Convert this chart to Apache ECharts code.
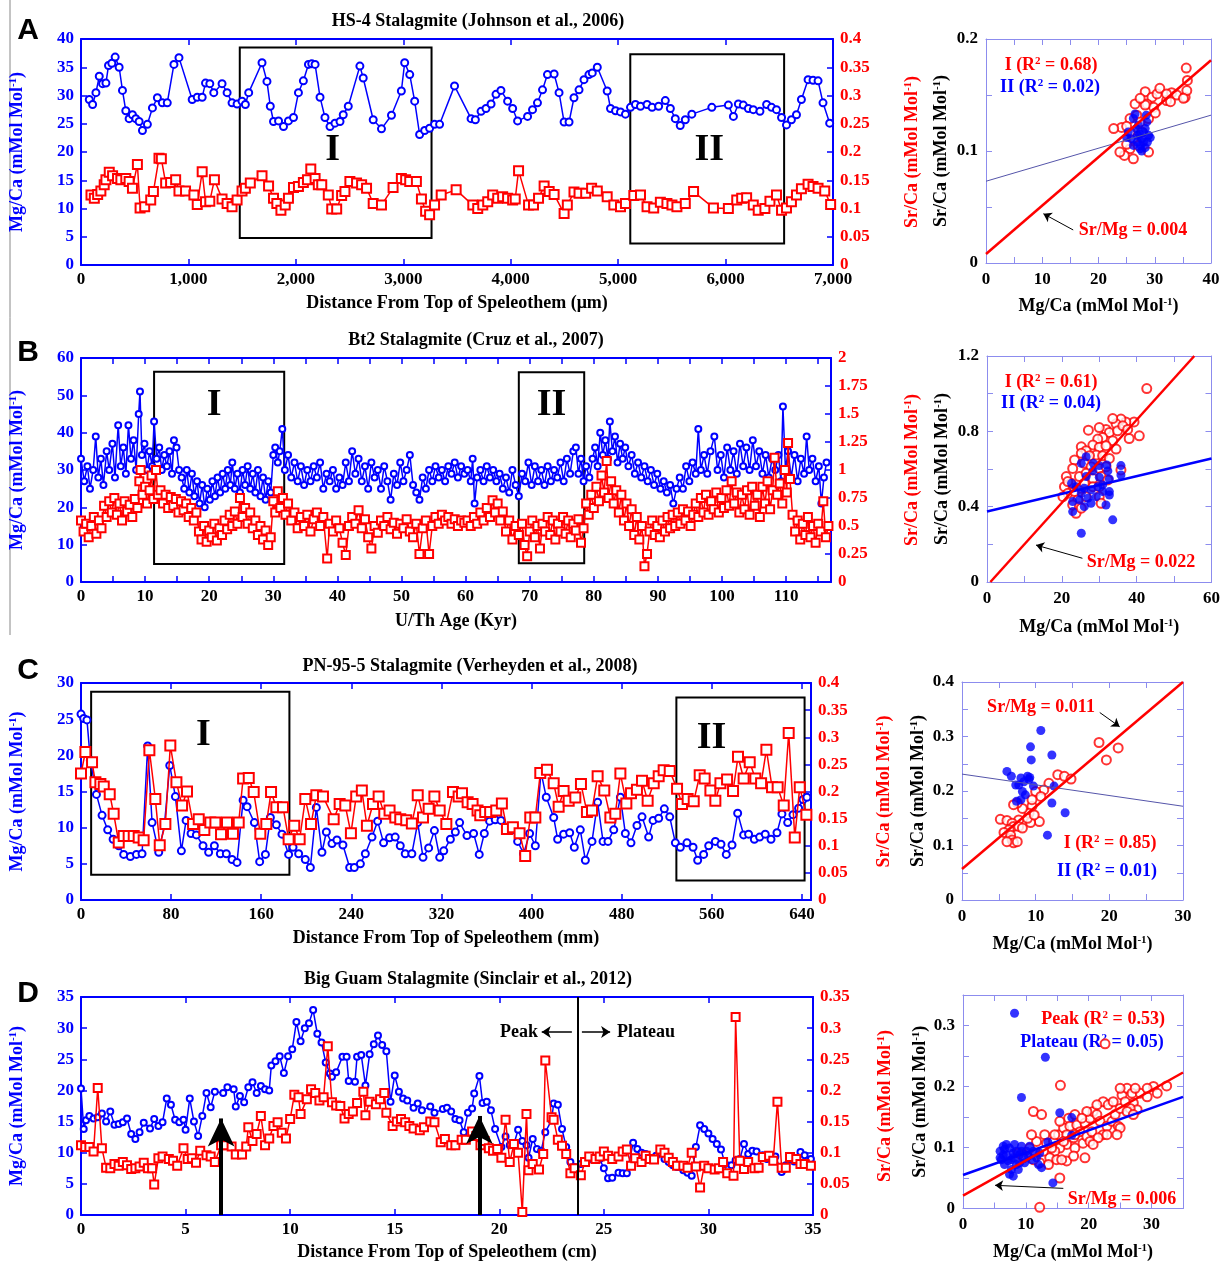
<!DOCTYPE html>
<html>
<head>
<meta charset="utf-8">
<script src="https://cdn.jsdelivr.net/npm/echarts@6/dist/echarts.min.js"></script>
<style>
html, body { margin: 0; padding: 0; background: #fff; }
#main { width: 1223px; height: 1262px; }
</style>
</head>
<body>
<div id="main"></div>
<script>
// ---------- data ----------
// A: HS-4, distance (um) vs Mg/Ca and Sr/Ca
var hs4Mg = [[77,29.3],[108,28.4],[139,30.5],[170,33.4],[201,32.1],[232,32.2],[256,35.3],[287,35.7],[318,36.8],[355,35.0],[386,30.9],[417,27.3],[448,25.9],[479,26.6],[510,25.9],[541,25.4],[572,23.8],[618,24.9],[665,27.8],[711,29.6],[757,28.7],[803,28.7],[865,35.5],[912,36.7],[1035,29.3],[1082,29.7],[1128,29.7],[1159,32.2],[1199,32.1],[1236,30.5],[1313,32.1],[1360,30.5],[1406,28.7],[1453,28.5],[1499,29.0],[1530,28.4],[1561,30.5],[1685,35.8],[1731,32.5],[1762,28.1],[1792,25.4],[1839,25.5],[1885,24.5],[1931,25.5],[1978,26.1],[2024,30.5],[2070,32.6],[2117,35.5],[2148,35.6],[2179,35.5],[2225,29.7],[2271,26.1],[2318,24.5],[2364,25.1],[2411,25.4],[2441,26.6],[2488,28.1],[2596,35.2],[2627,33.1],[2720,25.7],[2797,24.1],[2890,26.5],[2982,30.8],[3013,35.8],[3060,33.7],[3106,29.0],[3152,23.1],[3199,23.8],[3245,24.2],[3291,24.9],[3338,24.9],[3477,31.7],[3631,25.9],[3671,25.7],[3724,27.2],[3770,27.7],[3817,28.5],[3863,30.2],[3909,30.9],[3971,29.0],[4018,27.7],[4064,25.5],[4157,26.3],[4203,27.5],[4249,28.7],[4296,31.0],[4342,33.7],[4404,33.8],[4450,30.5],[4497,25.3],[4543,25.3],[4589,29.6],[4636,31.0],[4682,32.8],[4728,33.7],[4759,34.0],[4806,35.0],[4898,30.8],[4929,27.7],[4976,27.3],[5022,27.1],[5068,26.7],[5115,27.9],[5161,28.4],[5208,28.1],[5269,28.4],[5316,27.9],[5377,28.1],[5439,29.1],[5486,27.7],[5532,25.9],[5578,24.7],[5625,25.7],[5686,26.7],[5872,27.9],[6026,28.3],[6073,26.3],[6119,28.5],[6165,28.3],[6212,27.7],[6258,27.5],[6320,27.2],[6382,28.4],[6428,27.9],[6474,27.5],[6521,26.1],[6567,24.8],[6613,25.7],[6660,26.6],[6706,29.3],[6768,32.8],[6814,32.7],[6861,32.6],[6907,28.7],[6969,25.1]];
var hs4Sr = [[93,0.124],[124,0.118],[155,0.125],[185,0.131],[216,0.142],[232,0.151],[263,0.164],[294,0.158],[340,0.153],[371,0.151],[417,0.153],[448,0.148],[479,0.136],[525,0.178],[550,0.101],[593,0.103],[649,0.115],[674,0.130],[726,0.189],[748,0.188],[788,0.145],[834,0.146],[881,0.151],[912,0.131],[973,0.131],[1051,0.124],[1082,0.107],[1128,0.165],[1159,0.112],[1199,0.113],[1242,0.151],[1313,0.117],[1360,0.109],[1406,0.103],[1453,0.115],[1499,0.131],[1530,0.136],[1576,0.145],[1685,0.158],[1746,0.140],[1792,0.118],[1823,0.109],[1861,0.097],[1901,0.106],[1931,0.118],[1978,0.137],[2024,0.139],[2070,0.146],[2108,0.151],[2139,0.170],[2179,0.153],[2209,0.142],[2241,0.142],[2302,0.124],[2334,0.099],[2380,0.099],[2426,0.123],[2457,0.130],[2503,0.148],[2565,0.145],[2612,0.142],[2658,0.136],[2720,0.109],[2797,0.106],[2905,0.137],[2982,0.153],[3022,0.151],[3060,0.148],[3122,0.148],[3169,0.117],[3208,0.095],[3245,0.089],[3291,0.106],[3353,0.124],[3492,0.133],[3647,0.106],[3693,0.100],[3740,0.106],[3786,0.112],[3832,0.124],[3879,0.118],[3925,0.121],[3971,0.118],[4018,0.115],[4042,0.117],[4073,0.167],[4166,0.106],[4212,0.106],[4259,0.118],[4311,0.140],[4358,0.130],[4404,0.125],[4497,0.091],[4527,0.106],[4589,0.129],[4636,0.127],[4698,0.127],[4753,0.136],[4806,0.131],[4898,0.121],[4960,0.106],[5022,0.103],[5068,0.109],[5146,0.123],[5208,0.124],[5269,0.103],[5331,0.101],[5393,0.111],[5454,0.109],[5501,0.106],[5547,0.103],[5625,0.109],[5702,0.130],[5887,0.101],[6026,0.100],[6104,0.115],[6150,0.118],[6196,0.119],[6258,0.106],[6304,0.097],[6366,0.100],[6413,0.113],[6474,0.124],[6521,0.097],[6567,0.101],[6613,0.112],[6660,0.124],[6706,0.135],[6768,0.143],[6814,0.139],[6861,0.136],[6923,0.131],[6978,0.107]];
var hs4Boxes = [['I', 1478, 38.5, 3263, 4.8], ['II', 5113, 37.3, 6545, 3.8]];
var hs4ScatI = [[24.1,0.121],[25.6,0.102],[24.6,0.096],[26.2,0.111],[25.6,0.129],[26.5,0.142],[28.3,0.153],[29.5,0.148],[30.4,0.151],[30.9,0.156],[32.1,0.145],[33.0,0.152],[33.9,0.150],[35.4,0.148],[35.6,0.174],[35.8,0.163],[35.7,0.154],[35.1,0.147],[28.6,0.142],[29.8,0.139],[26.8,0.132],[25.6,0.117],[25.0,0.106],[27.1,0.105],[26.2,0.093],[27.4,0.126],[28.9,0.129],[27.7,0.117],[30.1,0.134],[32.1,0.151],[32.8,0.144],[22.7,0.120],[23.8,0.099],[25.0,0.122],[28.3,0.141],[27.4,0.147],[28.9,0.099]];
var hs4ScatII = [[25.0,0.112],[25.3,0.117],[26.2,0.129],[26.5,0.133],[27.1,0.123],[26.2,0.105],[26.9,0.108],[27.4,0.102],[27.7,0.111],[28.0,0.117],[28.3,0.120],[28.5,0.132],[28.6,0.126],[28.9,0.114],[29.2,0.112],[28.3,0.103],[27.7,0.100],[27.3,0.115],[25.8,0.111],[26.7,0.120],[28.7,0.108],[28.0,0.108],[27.5,0.105],[26.9,0.114]];
var hs4FitI = [[0,0.008],[40,0.181]];
var hs4FitII = [[0,0.073],[40,0.132]];

// B: Bt2, age (kyr)
var bt2Mg = [[0,33],[0.5,27],[1.0,31],[1.4,25],[1.9,30],[2.3,39],[2.7,28],[3.1,33],[3.5,26],[4.0,35],[4.4,30],[4.9,37],[5.3,28],[5.8,42],[6.2,31],[6.6,36],[7.0,29],[7.4,42],[7.8,33],[8.2,38],[8.6,30],[9.0,45],[9.2,51],[9.5,34],[9.9,37],[10.3,30],[10.7,35],[11.1,31],[11.4,43],[11.8,33],[12.2,36],[12.6,30],[13.0,34],[13.4,31],[13.8,35],[14.2,29],[14.5,38],[14.9,36],[15.3,30],[15.7,28],[16.1,25],[16.5,30],[16.9,24],[17.3,29],[17.7,23],[18.1,27],[18.5,21],[18.9,26],[19.3,20],[19.7,25],[20.1,22],[20.5,27],[20.9,23],[21.3,28],[21.7,24],[22.1,29],[22.5,25],[22.9,30],[23.3,26],[23.6,32],[24.0,25],[24.4,29],[24.8,24],[25.2,30],[25.6,26],[26.0,31],[26.4,25],[26.8,29],[27.2,24],[27.6,30],[28.0,23],[28.4,28],[28.8,22],[29.2,27],[29.6,24],[30.0,34],[30.3,36],[30.7,32],[31.0,35],[31.4,41],[31.8,30],[32.3,34],[32.8,28],[33.3,32],[33.8,27],[34.3,31],[34.8,26],[35.3,30],[35.8,27],[36.3,31],[36.8,28],[37.3,32],[37.8,25],[38.3,29],[38.8,27],[39.3,30],[39.8,25],[40.3,28],[40.8,26],[41.3,32],[41.8,27],[42.3,35],[42.8,29],[43.3,33],[43.8,27],[44.3,31],[44.8,25],[45.3,32],[45.8,28],[46.3,30],[46.8,25],[47.3,31],[47.8,27],[48.3,22],[48.8,29],[49.3,26],[49.8,32],[50.3,27],[50.8,30],[51.3,34],[51.8,26],[52.3,24],[52.8,22],[53.3,28],[53.8,25],[54.3,30],[54.8,27],[55.3,31],[55.8,28],[56.3,30],[56.8,27],[57.3,31],[57.8,29],[58.3,32],[58.8,28],[59.3,31],[59.8,29],[60.3,30],[60.8,27],[61.1,33],[61.4,21],[61.8,28],[62.3,30],[62.8,27],[63.3,31],[63.8,28],[64.3,30],[64.8,27],[65.3,29],[65.8,25],[66.3,28],[66.8,24],[67.3,30],[67.8,26],[68.3,23],[68.8,29],[69.3,27],[69.8,32],[70.3,26],[70.8,31],[71.3,27],[71.8,30],[72.3,26],[72.8,31],[73.3,27],[73.8,30],[74.3,28],[74.8,32],[75.3,27],[75.8,33],[76.3,29],[76.8,35],[77.2,36],[77.6,29],[78.0,33],[78.4,27],[78.8,31],[79.3,28],[79.8,33],[80.2,36],[80.6,31],[81.0,40],[81.4,34],[81.8,38],[82.2,33],[82.5,43],[82.9,35],[83.3,39],[83.7,32],[84.1,37],[84.5,33],[84.9,36],[85.4,31],[85.9,34],[86.4,29],[86.9,32],[87.4,28],[87.9,31],[88.4,27],[88.9,30],[89.4,26],[89.9,29],[90.4,25],[90.9,27],[91.4,24],[91.9,26],[92.4,21],[92.9,25],[93.4,28],[93.9,25],[94.4,31],[94.9,27],[95.4,32],[95.9,29],[96.3,41],[96.7,30],[97.2,34],[97.7,29],[98.2,35],[98.8,39],[99.3,30],[99.8,34],[100.3,28],[100.8,36],[101.3,30],[101.8,35],[102.3,29],[102.8,37],[103.3,31],[103.8,36],[104.3,30],[104.8,38],[105.3,31],[105.8,35],[106.3,29],[106.8,34],[107.3,28],[107.8,33],[108.3,30],[108.8,34],[109.2,27],[109.5,47],[109.9,30],[110.3,35],[110.8,28],[111.3,34],[111.8,27],[112.3,33],[112.8,29],[113.2,39],[113.6,30],[114.1,33],[114.6,27],[115.1,31],[115.5,21],[115.9,28],[116.3,32]];
var bt2Sr = [[0,0.55],[0.4,0.45],[0.8,0.52],[1.2,0.40],[1.6,0.50],[2.0,0.58],[2.4,0.43],[2.8,0.55],[3.2,0.48],[3.6,0.68],[4.0,0.58],[4.4,0.72],[4.8,0.62],[5.2,0.75],[5.6,0.60],[6.0,0.70],[6.4,0.55],[6.8,0.72],[7.2,0.63],[7.6,0.69],[8.0,0.58],[8.4,0.74],[8.8,0.66],[9.1,0.90],[9.3,1.0],[9.6,0.78],[10.0,0.85],[10.3,0.70],[10.7,0.82],[11.0,0.95],[11.3,0.74],[11.7,1.0],[12.0,0.78],[12.4,0.82],[12.8,0.70],[13.2,0.78],[13.6,0.66],[14.0,0.76],[14.4,0.68],[14.8,0.74],[15.2,0.62],[15.6,0.72],[16.0,0.64],[16.4,0.70],[16.8,0.58],[17.2,0.66],[17.6,0.55],[18.0,0.62],[18.4,0.45],[18.8,0.38],[19.2,0.50],[19.6,0.36],[20.0,0.46],[20.4,0.40],[20.8,0.52],[21.2,0.37],[21.6,0.48],[22.0,0.42],[22.4,0.55],[22.8,0.47],[23.2,0.60],[23.6,0.50],[24.0,0.63],[24.4,0.52],[24.8,0.75],[25.2,0.58],[25.6,0.66],[26.0,0.52],[26.4,0.62],[26.8,0.48],[27.2,0.55],[27.6,0.42],[28.0,0.50],[28.4,0.38],[28.8,0.46],[29.2,0.33],[29.6,0.40],[30.0,0.72],[30.3,0.62],[30.7,0.81],[31.1,0.66],[31.5,0.75],[31.9,0.60],[32.3,0.70],[32.8,0.55],[33.3,0.62],[33.8,0.48],[34.3,0.58],[34.8,0.50],[35.3,0.60],[35.8,0.45],[36.3,0.56],[36.8,0.62],[37.3,0.50],[37.8,0.58],[38.4,0.21],[38.8,0.52],[39.3,0.45],[39.8,0.55],[40.3,0.48],[40.8,0.35],[41.3,0.24],[41.8,0.50],[42.3,0.58],[42.8,0.52],[43.3,0.64],[43.8,0.48],[44.3,0.56],[44.8,0.40],[45.3,0.30],[45.8,0.50],[46.3,0.44],[46.8,0.55],[47.3,0.50],[47.8,0.58],[48.3,0.47],[48.8,0.53],[49.3,0.43],[49.8,0.52],[50.3,0.48],[50.8,0.56],[51.3,0.45],[51.8,0.40],[52.3,0.52],[52.8,0.25],[53.3,0.48],[53.8,0.55],[54.3,0.25],[54.8,0.50],[55.3,0.58],[55.8,0.52],[56.3,0.60],[56.8,0.55],[57.3,0.58],[57.8,0.52],[58.3,0.56],[58.8,0.50],[59.3,0.55],[59.8,0.53],[60.3,0.55],[60.8,0.50],[61.3,0.58],[61.8,0.52],[62.3,0.62],[62.8,0.55],[63.3,0.66],[63.8,0.58],[64.2,0.73],[64.6,0.62],[65.0,0.70],[65.4,0.55],[65.8,0.63],[66.3,0.45],[66.8,0.55],[67.3,0.38],[67.8,0.50],[68.3,0.42],[68.8,0.52],[69.2,0.33],[69.6,0.23],[70.0,0.45],[70.4,0.55],[70.8,0.40],[71.2,0.50],[71.6,0.30],[72.0,0.52],[72.4,0.45],[72.8,0.58],[73.2,0.42],[73.6,0.55],[74.0,0.38],[74.4,0.52],[74.8,0.45],[75.2,0.58],[75.6,0.43],[76.0,0.55],[76.4,0.40],[76.8,0.52],[77.2,0.46],[77.6,0.56],[78.0,0.35],[78.4,0.48],[78.8,0.70],[79.2,0.60],[79.6,0.78],[80.0,0.66],[80.4,0.85],[80.8,0.72],[81.2,0.95],[81.6,0.80],[82.0,1.08],[82.3,0.75],[82.7,0.90],[83.1,0.70],[83.5,0.82],[83.9,0.62],[84.3,0.78],[84.7,0.55],[85.1,0.70],[85.5,0.50],[85.9,0.65],[86.3,0.42],[86.7,0.58],[87.1,0.38],[87.5,0.50],[87.9,0.14],[88.3,0.25],[88.7,0.45],[89.1,0.55],[89.5,0.42],[89.9,0.50],[90.3,0.40],[90.7,0.55],[91.1,0.45],[91.5,0.58],[91.9,0.48],[92.3,0.60],[92.7,0.50],[93.1,0.62],[93.5,0.52],[93.9,0.65],[94.3,0.55],[94.7,0.63],[95.1,0.50],[95.5,0.60],[95.9,0.70],[96.3,0.58],[96.7,0.75],[97.1,0.62],[97.5,0.78],[97.9,0.60],[98.3,0.72],[98.7,0.65],[99.1,0.80],[99.5,0.62],[99.9,0.75],[100.3,0.66],[100.7,0.82],[101.1,0.68],[101.5,0.90],[101.9,0.70],[102.3,0.80],[102.7,0.62],[103.1,0.78],[103.5,0.65],[103.9,0.82],[104.3,0.60],[104.7,0.85],[105.1,0.68],[105.5,0.78],[105.9,0.58],[106.3,0.85],[106.7,0.70],[107.1,0.90],[107.5,0.65],[107.9,0.82],[108.2,1.11],[108.6,0.78],[109.0,0.88],[109.4,0.70],[109.8,1.0],[110.1,0.80],[110.3,1.24],[110.6,0.92],[111.0,0.60],[111.4,0.45],[111.8,0.55],[112.2,0.38],[112.6,0.52],[113.0,0.42],[113.4,0.58],[113.8,0.40],[114.2,0.50],[114.6,0.35],[115.0,0.52],[115.4,0.45],[115.8,0.72],[116.2,0.40],[116.6,0.50]];
var bt2Boxes = [['I', 11.4, 56.3, 31.7, 4.8], ['II', 68.3, 56.2, 78.5, 5.0]];
var bt2ScatI = [[42.7,1.027],[40.7,0.776],[38.0,0.762],[39.3,0.85],[37.1,0.85],[35.8,0.865],[34.5,0.84],[33.6,0.868],[31.8,0.81],[30.0,0.82],[27.1,0.806],[32.7,0.794],[34.9,0.803],[36.3,0.829],[37.6,0.81],[30.9,0.767],[33.6,0.75],[29.6,0.759],[28.3,0.727],[30.0,0.715],[31.8,0.724],[34.5,0.706],[25.2,0.718],[26.5,0.697],[29.2,0.674],[30.9,0.671],[32.7,0.656],[35.8,0.595],[25.2,0.683],[23.4,0.648],[26.0,0.63],[27.8,0.612],[30.0,0.603],[31.8,0.612],[22.9,0.603],[21.2,0.56],[22.5,0.524],[24.7,0.56],[26.5,0.577],[28.3,0.55],[30.5,0.56],[32.3,0.542],[20.7,0.506],[21.6,0.471],[23.4,0.48],[25.2,0.498],[26.5,0.453],[28.3,0.506],[30.0,0.506],[24.3,0.436],[22.9,0.409],[24.7,0.40],[23.8,0.365],[25.2,0.392],[30.0,0.453],[30.5,0.418],[20.3,0.453],[26.0,0.524],[27.4,0.671],[21.6,0.533]];
var bt2ScatII = [[26.5,0.665],[25.2,0.63],[28.4,0.63],[30.0,0.618],[32.0,0.621],[35.8,0.618],[35.8,0.568],[28.3,0.59],[26.5,0.56],[30.0,0.556],[32.3,0.59],[32.7,0.547],[22.6,0.524],[23.8,0.506],[26.0,0.498],[27.8,0.49],[29.6,0.506],[30.9,0.48],[32.7,0.48],[25.2,0.471],[27.0,0.445],[29.2,0.453],[32.7,0.462],[24.7,0.436],[27.8,0.418],[31.8,0.409],[22.9,0.374],[33.6,0.33],[25.2,0.259],[22.9,0.427],[26.0,0.40],[30.9,0.515]];
var bt2FitI = [[0.9,0],[55.4,1.2]];
var bt2FitII = [[0,0.374],[60,0.656]];

// C: PN-95-5, distance (mm)
var pn95Mg = [[0,25.7],[2.4,25.1],[5.3,24.9],[8.3,19.3],[13.7,14.6],[18.7,11.7],[23.7,9.7],[28.5,8.4],[33.5,7.5],[37.9,6.3],[43.8,6.0],[49.2,6.3],[54.2,6.4],[59.2,21.3],[63.1,10.7],[69.0,6.6],[74.0,10.3],[78.8,18.6],[83.8,14.3],[89.1,6.8],[93.3,11.0],[97.7,9.2],[102.4,9.0],[108.3,7.5],[113.3,6.6],[118.4,7.5],[123.7,6.4],[129.0,6.4],[134.1,5.6],[138.5,5.2],[143.9,13.8],[147.4,12.9],[153.9,10.7],[158.6,5.3],[163.7,6.3],[168.1,11.4],[173.4,10.4],[178.4,9.1],[184.3,6.3],[188.2,7.3],[193.2,6.4],[199.1,5.6],[203.6,4.5],[208.9,12.8],[213.9,6.6],[217.8,9.4],[222.8,7.8],[227.2,8.3],[232.5,7.6],[238.5,4.5],[242.6,4.5],[248.0,5.0],[252.4,6.4],[258.3,8.7],[263.3,10.9],[268.6,7.9],[273.9,8.6],[278.9,8.7],[283.4,7.5],[287.8,6.4],[293.7,6.4],[298.9,10.7],[303.6,5.9],[308.6,7.2],[313.7,9.6],[318.4,5.9],[322.0,6.8],[327.9,8.4],[332.3,9.4],[336.1,10.7],[342.6,8.9],[348.5,9.2],[353.5,6.3],[358.0,9.2],[362.7,10.9],[367.7,11.1],[372.8,11.0],[378.1,9.7],[383.4,9.7],[387.6,8.1],[392.9,6.4],[398.2,9.2],[403.3,7.5],[408.3,17.7],[413.0,14.2],[419.6,11.4],[423.1,8.4],[428.4,9.1],[433.8,9.3],[437.9,7.3],[443.2,9.7],[447.7,5.5],[453.6,8.1],[458.6,13.5],[463.4,8.1],[467.8,8.1],[472.9,9.7],[478.8,14.2],[483.2,9.2],[488.2,7.9],[493.5,10.3],[498.0,11.5],[503.9,8.7],[507.8,11.0],[512.8,11.3],[517.8,12.6],[522.6,11.5],[527.6,7.9],[532.0,7.3],[537.9,7.9],[543.3,7.3],[547.4,5.5],[552.7,6.3],[557.2,7.5],[563.1,8.1],[568.1,7.7],[572.8,6.3],[577.9,7.6],[582.9,12.0],[588.2,9.0],[592.6,9.1],[597.7,8.4],[602.4,8.7],[607.4,9.1],[612.5,8.4],[617.8,9.3],[622.2,11.9],[627.3,10.7],[632.0,11.8],[637.0,12.7],[640.9,13.9],[644.4,14.2]];
var pn95Sr = [[0,0.233],[3.9,0.273],[9.8,0.254],[12.8,0.217],[17.2,0.214],[20.2,0.209],[25.5,0.195],[29.0,0.159],[33.5,0.106],[37.9,0.118],[42.3,0.118],[46.8,0.118],[51.2,0.115],[55.6,0.110],[60.7,0.276],[66.0,0.186],[69.9,0.101],[74.9,0.140],[79.3,0.285],[84.7,0.217],[89.7,0.174],[94.1,0.200],[99.5,0.140],[104.5,0.149],[109.5,0.129],[114.8,0.143],[119.3,0.143],[124.3,0.121],[129.6,0.143],[134.9,0.122],[140.0,0.143],[143.9,0.224],[148.9,0.225],[153.3,0.199],[159.2,0.122],[164.5,0.140],[168.7,0.199],[173.4,0.171],[179.3,0.171],[184.3,0.112],[189.3,0.137],[194.1,0.112],[199.1,0.186],[204.2,0.140],[208.9,0.193],[214.8,0.191],[224.3,0.149],[229.6,0.177],[234.6,0.174],[239.6,0.123],[244.3,0.191],[249.3,0.202],[253.8,0.137],[259.2,0.177],[264.2,0.191],[269.2,0.159],[273.9,0.165],[279.0,0.152],[283.4,0.149],[288.7,0.147],[293.7,0.141],[298.9,0.193],[303.6,0.152],[308.6,0.168],[313.7,0.191],[318.4,0.165],[324.3,0.140],[330.2,0.199],[335.2,0.191],[338.2,0.197],[343.2,0.180],[347.6,0.177],[352.0,0.165],[354.4,0.156],[358.8,0.162],[363.2,0.162],[368.6,0.165],[373.6,0.178],[378.1,0.131],[383.4,0.134],[389.3,0.123],[394.3,0.081],[398.8,0.152],[403.3,0.152],[407.7,0.234],[413.6,0.240],[419.6,0.215],[424.0,0.172],[428.4,0.201],[432.9,0.183],[438.8,0.189],[443.8,0.214],[449.1,0.162],[453.6,0.165],[458.6,0.228],[464.5,0.202],[469.9,0.152],[474.3,0.159],[478.8,0.233],[484.1,0.178],[488.2,0.197],[493.5,0.203],[498.0,0.220],[503.0,0.183],[508.4,0.215],[512.8,0.228],[517.2,0.239],[522.6,0.238],[529.1,0.205],[533.5,0.177],[538.5,0.186],[543.9,0.182],[549.2,0.230],[553.6,0.224],[558.7,0.202],[563.1,0.183],[567.6,0.215],[573.5,0.222],[578.8,0.201],[583.2,0.264],[588.2,0.224],[593.6,0.254],[598.6,0.224],[603.7,0.215],[608.4,0.277],[613.4,0.208],[618.4,0.208],[623.8,0.174],[628.2,0.308],[633.6,0.115],[638.0,0.208],[643.9,0.157]];
var pn95Boxes = [['I', 9, 28.8, 185, 3.5], ['II', 528.5, 28.0, 642.3, 2.7]];
var pn95ScatI = [[18.6,0.289],[21.2,0.279],[19.6,0.257],[13.0,0.23],[13.9,0.227],[14.8,0.222],[11.8,0.214],[11.1,0.202],[10.0,0.199],[10.7,0.19],[9.5,0.172],[9.1,0.159],[8.2,0.168],[7.5,0.178],[7.0,0.175],[10.5,0.144],[9.3,0.142],[7.7,0.147],[5.2,0.148],[6.1,0.146],[6.8,0.141],[7.0,0.135],[7.7,0.135],[6.4,0.129],[5.7,0.124],[6.6,0.119],[6.8,0.11],[7.0,0.105],[7.5,0.107],[6.1,0.107],[8.2,0.132],[8.9,0.15],[9.8,0.156],[9.5,0.184]];
var pn95ScatII = [[10.7,0.311],[9.3,0.281],[9.4,0.257],[12.2,0.266],[6.1,0.236],[6.7,0.227],[8.0,0.224],[8.9,0.227],[9.2,0.225],[9.7,0.209],[7.7,0.211],[8.4,0.217],[7.3,0.211],[8.6,0.193],[8.0,0.184],[7.4,0.181],[12.5,0.209],[12.2,0.178],[14.0,0.16],[11.6,0.119],[8.2,0.199],[9.1,0.221]];
var pn95FitI = [[0,0.057],[30,0.40]];
var pn95FitII = [[0,0.231],[30,0.172]];

// D: Big Guam, distance (cm)
var guamMg = [[0,20.3],[0.13,13.8],[0.24,15.2],[0.4,15.9],[0.6,15.5],[0.8,15.7],[1.0,16.3],[1.2,15.0],[1.4,16.6],[1.6,14.5],[1.8,14.6],[2.0,14.9],[2.2,15.5],[2.4,13.0],[2.6,12.2],[2.8,13.3],[3.0,14.8],[3.3,13.9],[3.5,15.4],[3.7,14.3],[3.9,14.9],[4.1,18.7],[4.3,17.7],[4.5,15.3],[4.7,14.9],[4.9,15.3],[5.0,13.7],[5.2,18.7],[5.4,15.0],[5.6,12.7],[5.8,15.9],[6.0,19.6],[6.2,17.3],[6.4,19.8],[6.8,19.6],[7.0,20.5],[7.3,20.2],[7.4,17.4],[7.6,19.1],[7.8,18.1],[8.0,20.5],[8.2,21.3],[8.4,19.6],[8.6,20.7],[8.8,20.2],[9.0,20.0],[9.1,24.0],[9.3,24.7],[9.5,25.5],[9.7,22.8],[9.9,25.5],[10.1,26.6],[10.3,31.0],[10.5,27.9],[10.7,30.0],[10.9,30.8],[11.1,32.9],[11.3,29.1],[11.5,27.7],[11.7,24.5],[11.9,22.7],[12.0,22.2],[12.2,22.9],[12.5,25.4],[12.7,25.4],[12.8,21.5],[13.1,21.4],[13.2,25.4],[13.4,25.7],[13.6,20.8],[13.8,25.8],[14.0,27.4],[14.2,28.8],[14.4,27.3],[14.6,26.3],[14.8,18.2],[15.0,22.4],[15.2,19.8],[15.4,18.7],[15.6,18.4],[15.9,17.2],[16.1,17.9],[16.3,16.8],[16.7,17.4],[16.9,16.4],[17.3,17.0],[17.5,17.2],[17.7,16.6],[17.9,15.4],[18.1,15.2],[18.3,13.3],[18.5,16.4],[18.7,17.1],[18.8,19.5],[19.05,22.3],[19.2,18.0],[19.4,18.2],[19.6,16.8],[19.8,13.8],[20.1,10.9],[20.3,12.6],[20.5,11.2],[20.7,11.4],[20.9,13.7],[21.1,11.9],[21.3,11.2],[21.4,9.2],[21.6,12.2],[21.8,10.6],[22.0,10.3],[22.2,13.3],[22.5,15.2],[22.6,17.9],[22.8,17.7],[23.0,13.8],[23.2,10.9],[23.4,8.5],[23.6,7.7],[23.9,8.2],[24.1,8.5],[24.4,9.0],[24.6,9.1],[24.8,9.0],[25.0,7.5],[25.2,5.9],[25.4,6.0],[25.7,6.8],[25.9,6.7],[26.1,6.7],[26.4,11.6],[26.6,10.6],[26.8,10.0],[27.0,9.8],[27.2,9.1],[27.5,9.5],[27.7,10.0],[27.9,9.0],[28.1,8.5],[28.3,8.0],[28.5,7.7],[28.8,7.2],[29.0,6.8],[29.2,6.3],[29.4,10.9],[29.6,14.4],[29.8,13.8],[30.0,13.1],[30.2,12.2],[30.4,11.4],[30.6,10.5],[30.8,8.2],[31.1,8.0],[31.3,8.8],[31.5,9.0],[31.7,11.4],[31.9,9.8],[32.1,10.3],[32.3,10.2],[32.6,9.6],[32.8,9.0],[33.0,9.2],[33.2,9.4],[33.5,6.9],[33.7,8.0],[33.9,9.0],[34.1,8.6],[34.4,10.1],[34.6,9.6],[34.9,9.0]];
var guamSr = [[0,0.112],[0.2,0.109],[0.4,0.109],[0.6,0.102],[0.8,0.204],[1.0,0.107],[1.2,0.076],[1.4,0.075],[1.6,0.082],[1.8,0.079],[2.0,0.085],[2.2,0.080],[2.4,0.074],[2.6,0.075],[2.8,0.078],[3.0,0.084],[3.2,0.075],[3.4,0.075],[3.5,0.049],[3.7,0.091],[3.9,0.094],[4.2,0.090],[4.4,0.087],[4.6,0.079],[4.9,0.107],[5.1,0.090],[5.3,0.091],[5.5,0.084],[5.7,0.103],[6.0,0.096],[6.2,0.094],[6.4,0.085],[6.7,0.112],[6.9,0.112],[7.2,0.110],[7.4,0.097],[7.7,0.097],[7.9,0.110],[8.0,0.141],[8.2,0.119],[8.4,0.130],[8.6,0.159],[8.8,0.112],[9.0,0.123],[9.2,0.143],[9.4,0.149],[9.6,0.132],[9.8,0.123],[10.0,0.154],[10.2,0.193],[10.4,0.189],[10.5,0.162],[10.8,0.186],[11.0,0.202],[11.2,0.196],[11.4,0.184],[11.6,0.189],[11.8,0.271],[12.0,0.181],[12.2,0.176],[12.4,0.175],[12.6,0.155],[12.8,0.162],[13.0,0.166],[13.2,0.180],[13.5,0.198],[13.6,0.160],[13.8,0.182],[14.1,0.178],[14.3,0.186],[14.5,0.196],[14.6,0.164],[14.9,0.143],[15.1,0.150],[15.3,0.154],[15.5,0.149],[15.7,0.143],[15.9,0.139],[16.2,0.136],[16.4,0.141],[16.7,0.150],[16.9,0.149],[17.2,0.117],[17.4,0.122],[17.7,0.112],[17.9,0.112],[18.2,0.121],[18.4,0.121],[18.7,0.134],[18.9,0.127],[19.1,0.112],[19.3,0.119],[19.5,0.107],[19.7,0.103],[19.9,0.106],[20.1,0.092],[20.3,0.153],[20.5,0.085],[20.7,0.114],[20.9,0.100],[21.1,0.005],[21.3,0.162],[21.4,0.072],[21.6,0.082],[21.9,0.073],[22.1,0.098],[22.2,0.248],[22.5,0.157],[22.6,0.153],[22.8,0.121],[23.0,0.111],[23.2,0.098],[23.4,0.067],[23.6,0.075],[23.9,0.064],[24.1,0.085],[24.3,0.094],[24.6,0.090],[24.8,0.094],[25.0,0.102],[25.2,0.095],[25.4,0.090],[25.7,0.094],[25.9,0.102],[26.1,0.105],[26.3,0.079],[26.5,0.091],[26.8,0.085],[27.0,0.095],[27.2,0.090],[27.4,0.089],[27.7,0.105],[27.9,0.100],[28.1,0.092],[28.3,0.085],[28.5,0.079],[28.8,0.079],[29.0,0.076],[29.2,0.100],[29.4,0.078],[29.6,0.044],[29.8,0.079],[30.0,0.075],[30.3,0.073],[30.5,0.075],[30.7,0.085],[30.9,0.067],[31.2,0.063],[31.3,0.318],[31.5,0.087],[31.7,0.074],[31.9,0.085],[32.2,0.075],[32.4,0.076],[32.6,0.093],[32.9,0.095],[33.1,0.087],[33.3,0.182],[33.5,0.076],[33.7,0.076],[33.9,0.093],[34.2,0.090],[34.4,0.082],[34.6,0.082],[34.9,0.079]];
var guamSplit = 23.75;
var guamArrowsAt = [[6.7, 15.5], [19.05, 15.9]];
var guamScatPeak = [[12.2,0.002],[15.4,0.05],[15.5,0.202],[22.6,0.27],[11.2,0.159],[12.5,0.154],[13.0,0.121],[11.7,0.11],[13.3,0.107],[14.4,0.11],[15.2,0.121],[16.0,0.132],[16.8,0.148],[17.8,0.154],[15.4,0.143],[17.0,0.135],[18.1,0.137],[18.6,0.126],[17.6,0.116],[16.5,0.105],[15.4,0.099],[14.6,0.094],[13.8,0.083],[14.9,0.08],[13.6,0.072],[12.2,0.075],[11.2,0.08],[10.1,0.088],[16.5,0.078],[17.8,0.099],[19.1,0.107],[19.7,0.118],[20.5,0.126],[19.4,0.14],[20.2,0.148],[20.7,0.159],[21.3,0.154],[21.8,0.143],[22.3,0.121],[22.9,0.135],[23.7,0.143],[24.2,0.154],[24.7,0.135],[25.0,0.164],[25.3,0.186],[26.1,0.197],[26.9,0.189],[27.1,0.173],[27.7,0.162],[26.6,0.164],[25.8,0.175],[25.0,0.197],[28.2,0.189],[29.3,0.183],[30.3,0.2],[30.9,0.189],[32.4,0.201],[29.3,0.197],[27.4,0.197],[22.3,0.175],[23.1,0.17],[23.9,0.175],[21.3,0.17],[19.7,0.159],[18.9,0.148],[17.8,0.121],[16.5,0.121],[16.0,0.11],[14.1,0.099],[12.8,0.094],[14.6,0.121],[20.2,0.11],[21.5,0.116],[22.9,0.121],[20.7,0.105],[17.6,0.086],[19.4,0.083],[10.9,0.121],[8.8,0.091],[9.6,0.083],[10.6,0.099],[26.1,0.159],[25.0,0.132],[27.1,0.154],[24.5,0.121],[15.7,0.08]];
var guamScatPlateau = [[8.2,0.32],[13.1,0.248],[9.3,0.182],[15.4,0.157],[17.3,0.149],[17.3,0.12],[13.5,0.109],[14.3,0.042],[12.5,0.067],[5.9,0.094],[6.4,0.102],[6.9,0.088],[6.1,0.08],[7.4,0.099],[8.0,0.083],[6.6,0.072],[7.7,0.064],[8.0,0.053],[8.5,0.072],[9.0,0.088],[9.3,0.102],[10.1,0.094],[10.9,0.08],[11.7,0.083],[9.8,0.075],[7.2,0.078],[8.5,0.094],[8.2,0.105],[6.9,0.105],[9.0,0.075],[10.4,0.086],[11.2,0.094],[12.0,0.072],[7.4,0.056],[5.9,0.083],[8.8,0.064],[6.6,0.097],[9.6,0.083],[8.0,0.091],[6.4,0.088],[7.7,0.08],[9.3,0.094],[10.6,0.102],[12.2,0.091]];
var guamFitPeak = [[0,0.021],[35,0.223]];
var guamFitPlateau = [[0,0.055],[35,0.183]];

// ---------- styling helpers ----------
var BLUE = '#0000ff', RED = '#ff0000', FRAME = '#8c8cee';
var FONT = 'Liberation Serif';
var TICK = 17, NAME = 18;
function txt(size, color) { return { fontFamily: FONT, fontWeight: 'bold', fontSize: size, color: color }; }
function unitRich(color) {
  return {
    a: { fontFamily: FONT, fontWeight: 'bold', fontSize: NAME, color: color },
    s: { fontFamily: FONT, fontWeight: 'bold', fontSize: 11, color: color, verticalAlign: 'top', padding: [0, 0, 8, 0] }
  };
}
function unitName(p) { return '{a|' + p + ' (mMol Mol}{s|-1}{a|)}'; }
function thousands(v) { return v >= 1000 ? Math.floor(v / 1000) + ',' + ('00' + (v % 1000)).slice(-3) : String(v); }

var grids = [], xAxes = [], yAxes = [], series = [];

function addTs(c) {
  var g = grids.length;
  grids.push({ left: c.box[0], top: c.box[1], width: c.box[2], height: c.box[3] });
  var xb = {
    gridIndex: g, type: 'value', min: 0, max: c.xmax, interval: c.xint, position: 'bottom',
    name: c.xname, nameLocation: 'middle', nameGap: c.xgap, nameTextStyle: txt(NAME, '#000'),
    axisLine: { onZero: false, lineStyle: { color: BLUE, width: 2 } },
    axisTick: { inside: true, length: 6, lineStyle: { color: BLUE, width: 1.5 } },
    minorTick: { show: !!c.xminor, splitNumber: 2, length: 6, lineStyle: { color: BLUE, width: 1.5 } },
    axisLabel: Object.assign(txt(TICK, '#000'), { margin: 6, formatter: c.xfmt, showMaxLabel: c.xmaxLabel }),
    splitLine: { show: false }
  };
  xAxes.push(xb);
  xAxes.push(Object.assign({}, xb, { position: 'top', name: '', axisLabel: { show: false } }));
  yAxes.push({
    gridIndex: g, type: 'value', min: 0, max: c.lmax, interval: c.lint, position: 'left',
    name: unitName('Mg/Ca'), nameLocation: 'middle', nameRotate: 90, nameGap: c.lgap,
    nameTextStyle: { rich: unitRich(BLUE) },
    axisLine: { onZero: false, lineStyle: { color: BLUE, width: 2 } },
    axisTick: { inside: true, length: 6, lineStyle: { color: BLUE, width: 1.5 } },
    axisLabel: Object.assign(txt(TICK, BLUE), { margin: 7 }),
    splitLine: { show: false }
  });
  yAxes.push({
    gridIndex: g, type: 'value', min: 0, max: c.rmax, interval: c.rint, position: 'right',
    name: unitName('Sr/Ca'), nameLocation: 'middle', nameRotate: 90, nameGap: c.rgap,
    nameTextStyle: { rich: unitRich(RED) },
    axisLine: { onZero: false, lineStyle: { color: BLUE, width: 2 } },
    axisTick: { inside: true, length: 6, lineStyle: { color: BLUE, width: 1.5 } },
    axisLabel: Object.assign(txt(TICK, RED), { margin: 7 }),
    splitLine: { show: false }
  });
  var mg = {
    type: 'line', xAxisIndex: 2 * g, yAxisIndex: 2 * g, data: c.mg, symbol: 'emptyCircle',
    symbolSize: c.csize, lineStyle: { color: BLUE, width: 1.5 },
    itemStyle: { color: BLUE, borderWidth: 1.5 }, z: 3
  };
  if (c.boxes) {
    mg.markArea = {
      silent: true,
      itemStyle: { color: 'rgba(0,0,0,0)', borderColor: '#000', borderWidth: 2 },
      label: { show: true, position: 'inside', color: '#000', fontFamily: FONT, fontWeight: 'bold', fontSize: 38 },
      data: c.boxes.map(function (b, i) {
        return [{ name: b[0], coord: [b[1], b[2]], label: { offset: c.boxOff[i] } }, { coord: [b[3], b[4]] }];
      })
    };
  }
  series.push(mg);
  var sr = {
    type: 'line', xAxisIndex: 2 * g, yAxisIndex: 2 * g + 1, data: c.sr, symbol: 'emptyRect',
    symbolSize: c.ssize, lineStyle: { color: RED, width: 1.5 },
    itemStyle: { color: RED, borderWidth: 1.5 }, z: 4
  };
  series.push(sr);
  return { mg: mg, sr: sr };
}

function addScatter(c) {
  var g = grids.length;
  grids.push({ left: c.box[0], top: c.box[1], width: c.box[2], height: c.box[3] });
  var xb = {
    gridIndex: g, type: 'value', min: 0, max: c.xmax, interval: c.xint, position: 'bottom',
    name: unitName('Mg/Ca'), nameLocation: 'middle', nameGap: c.xgap, nameTextStyle: { rich: unitRich('#000') },
    axisLine: { onZero: false, lineStyle: { color: FRAME, width: 1 } },
    axisTick: { inside: true, length: 6, lineStyle: { color: FRAME } },
    minorTick: { show: true, splitNumber: 2, length: 6, lineStyle: { color: FRAME } },
    axisLabel: Object.assign(txt(TICK, '#000'), { margin: 8, showMaxLabel: c.xmaxLabel }),
    splitLine: { show: false }
  };
  xAxes.push(xb);
  xAxes.push(Object.assign({}, xb, { position: 'top', name: '', axisLabel: { show: false } }));
  var yb = {
    gridIndex: g, type: 'value', min: 0, max: c.ymax, interval: c.yint, position: 'left',
    name: unitName('Sr/Ca'), nameLocation: 'middle', nameRotate: 90, nameGap: c.ygap,
    nameTextStyle: { rich: unitRich('#000') },
    axisLine: { onZero: false, lineStyle: { color: FRAME, width: 1 } },
    axisTick: { inside: true, length: 6, lineStyle: { color: FRAME } },
    minorTick: { show: true, splitNumber: 2, length: 6, lineStyle: { color: FRAME } },
    axisLabel: Object.assign(txt(TICK, '#000'), { margin: 8, showMaxLabel: c.ymaxLabel }),
    splitLine: { show: false }
  };
  yAxes.push(yb);
  yAxes.push(Object.assign({}, yb, { position: 'right', name: '', axisLabel: { show: false } }));
  series.push({
    type: 'scatter', xAxisIndex: 2 * g, yAxisIndex: 2 * g, data: c.red, symbol: 'emptyCircle',
    symbolSize: 9, itemStyle: { color: RED, borderWidth: 1 }, z: 3
  });
  series.push({
    type: 'scatter', xAxisIndex: 2 * g, yAxisIndex: 2 * g, data: c.blue, symbol: 'circle',
    symbolSize: 9, itemStyle: { color: BLUE }, z: 4
  });
  series.push({
    type: 'line', xAxisIndex: 2 * g, yAxisIndex: 2 * g, data: c.fitBlue, symbol: 'none',
    lineStyle: { color: c.blueFitColor, width: c.blueFitWidth }, z: 5
  });
  series.push({
    type: 'line', xAxisIndex: 2 * g, yAxisIndex: 2 * g, data: c.fitRed, symbol: 'none',
    lineStyle: { color: RED, width: 2.5 }, z: 6,
    markLine: {
      silent: true, symbol: ['none', 'arrow'], symbolSize: 8, animation: false,
      lineStyle: { color: '#000', width: 1, type: 'solid' }, label: { show: false },
      data: [[{ coord: c.arrow[0] }, { coord: c.arrow[1] }]]
    }
  });
}

// ---------- panels ----------
addTs({
  box: [81, 39, 752, 226], xmax: 7000, xint: 1000, xfmt: thousands, xmaxLabel: true,
  xname: 'Distance From Top of Speleothem (\u03bcm)', xgap: 29,
  lmax: 40, lint: 5, rmax: 0.4, rint: 0.05, lgap: 54, rgap: 70,
  mg: hs4Mg, sr: hs4Sr, csize: 7, ssize: 9, boxes: hs4Boxes, boxOff: [[-3, 8], [2, 1]]
});
addScatter({
  box: [986, 39, 225, 224], xmax: 40, xint: 10, ymax: 0.2, yint: 0.1, xgap: 34, ygap: 35,
  red: hs4ScatI, blue: hs4ScatII, fitRed: hs4FitI, fitBlue: hs4FitII,
  blueFitColor: '#5555aa', blueFitWidth: 1, arrow: [[15.5, 0.0295], [10.2, 0.044]]
});
addTs({
  box: [81, 358, 750, 224], xmax: 117, xint: 10, xminor: true, xmaxLabel: false,
  xname: 'U/Th Age (Kyr)', xgap: 30,
  lmax: 60, lint: 10, rmax: 2, rint: 0.25, lgap: 54, rgap: 72,
  mg: bt2Mg, sr: bt2Sr, csize: 6, ssize: 8, boxes: bt2Boxes, boxOff: [[-5, -63], [0, -63]]
});
addScatter({
  box: [987, 356, 225, 226], xmax: 60, xint: 20, ymax: 1.2, yint: 0.4, xgap: 36, ygap: 35,
  red: bt2ScatI, blue: bt2ScatII, fitRed: bt2FitI, fitBlue: bt2FitII,
  blueFitColor: BLUE, blueFitWidth: 2.5, arrow: [[25.5, 0.126], [13.1, 0.196]]
});
addTs({
  box: [81, 683, 730, 217], xmax: 648, xint: 80, xmaxLabel: false,
  xname: 'Distance From Top of Speleothem (mm)', xgap: 29,
  lmax: 30, lint: 5, rmax: 0.4, rint: 0.05, lgap: 54, rgap: 64,
  mg: pn95Mg, sr: pn95Sr, csize: 7, ssize: 10, boxes: pn95Boxes, boxOff: [[13, -48], [-29, -51]]
});
addScatter({
  box: [962, 682, 221, 218], xmax: 30, xint: 10, ymax: 0.4, yint: 0.1, xgap: 35, ygap: 34,
  red: pn95ScatI, blue: pn95ScatII, fitRed: pn95FitI, fitBlue: pn95FitII,
  blueFitColor: '#5555aa', blueFitWidth: 1, arrow: [[18.7, 0.344], [21.4, 0.318]]
});
var tsD = addTs({
  box: [81, 997, 732, 218], xmax: 35, xint: 5, xmaxLabel: true,
  xname: 'Distance From Top of Speleothem (cm)', xgap: 28,
  lmax: 35, lint: 5, rmax: 0.35, rint: 0.05, lgap: 54, rgap: 63,
  mg: guamMg, sr: guamSr, csize: 6, ssize: 8
});
addScatter({
  box: [963, 995, 220, 216], xmax: 35, xint: 10, ymax: 0.35, yint: 0.1, xgap: 34, ygap: 33,
  xmaxLabel: false, ymaxLabel: false,
  red: guamScatPeak, blue: guamScatPlateau, fitRed: guamFitPeak, fitBlue: guamFitPlateau,
  blueFitColor: BLUE, blueFitWidth: 2.5, arrow: [[15.96, 0.033], [5.1, 0.038]]
});

// D annotations: thick arrows on the Mg series, split line + Peak/Plateau arrows on the Sr series
tsD.mg.markLine = {
  silent: true, animation: false, symbol: ['none', 'arrow'], symbolSize: [20, 28],
  lineStyle: { color: '#000', width: 4, type: 'solid' }, label: { show: false },
  data: guamArrowsAt.map(function (a) { return [{ coord: [a[0], 0] }, { coord: [a[0], a[1]] }]; })
};
tsD.sr.markLine = {
  silent: true, animation: false, symbol: ['none', 'arrow'], symbolSize: 9,
  lineStyle: { color: '#000', width: 1.5, type: 'solid' }, label: { show: false },
  data: [
    [{ coord: [guamSplit, 0], symbol: 'none', lineStyle: { width: 2 } }, { coord: [guamSplit, 0.35], symbol: 'none' }],
    [{ coord: [23.47, 0.294] }, { coord: [22.03, 0.294] }],
    [{ coord: [23.95, 0.294] }, { coord: [25.3, 0.294] }]
  ]
};

// ---------- free text ----------
function label(x, y, text, color, size) {
  return {
    type: 'text', x: x, y: y, silent: true,
    style: { text: text, fill: color, font: 'bold ' + size + 'px "Liberation Serif"', align: 'center', verticalAlign: 'middle' }
  };
}
function r2(x, y, pre, post, color) {
  return {
    type: 'text', x: x, y: y, silent: true,
    style: {
      text: '{a|' + pre + '}{s|2}{a|' + post + '}', align: 'center', verticalAlign: 'middle',
      rich: {
        a: { fill: color, fontFamily: FONT, fontWeight: 'bold', fontSize: 18 },
        s: { fill: color, fontFamily: FONT, fontWeight: 'bold', fontSize: 11, verticalAlign: 'top', padding: [0, 0, 8, 0] }
      }
    }
  };
}
function letter(x, y, t) {
  return { type: 'text', x: x, y: y, silent: true,
    style: { text: t, fill: '#000', font: 'bold 30px "Liberation Sans"', align: 'center', verticalAlign: 'middle' } };
}

var graphics = [
  { type: 'line', silent: true, shape: { x1: 10, y1: 0, x2: 10, y2: 635 }, style: { stroke: '#888', lineWidth: 1 } },
  letter(28, 31, 'A'), letter(28, 353, 'B'), letter(28, 671, 'C'), letter(28, 994, 'D'),
  label(478, 21, 'HS-4 Stalagmite (Johnson et al., 2006)', '#000', 18),
  label(476, 340, 'Bt2 Stalagmite (Cruz et al., 2007)', '#000', 18),
  label(470, 666, 'PN-95-5 Stalagmite (Verheyden et al., 2008)', '#000', 18),
  label(468, 979, 'Big Guam Stalagmite (Sinclair et al., 2012)', '#000', 18),
  r2(1051, 65, 'I (R', ' = 0.68)', RED), r2(1050, 87, 'II (R', ' = 0.02)', BLUE),
  label(1133, 230, 'Sr/Mg = 0.004', RED, 18),
  r2(1051, 382, 'I (R', ' = 0.61)', RED), r2(1051, 403, 'II (R', ' = 0.04)', BLUE),
  label(1141, 562, 'Sr/Mg = 0.022', RED, 18),
  label(1041, 707, 'Sr/Mg = 0.011', RED, 18),
  r2(1110, 843, 'I (R', ' = 0.85)', RED), r2(1107, 871, 'II (R', ' = 0.01)', BLUE),
  r2(1103, 1019, 'Peak (R', ' = 0.53)', RED), r2(1092, 1042, 'Plateau (R', ' = 0.05)', BLUE),
  label(1122, 1199, 'Sr/Mg = 0.006', RED, 18),
  label(519, 1032, 'Peak', '#000', 18), label(646, 1032, 'Plateau', '#000', 18)
];

var chart = echarts.init(document.getElementById('main'));
chart.setOption({
  animation: false,
  backgroundColor: '#fff',
  grid: grids,
  xAxis: xAxes,
  yAxis: yAxes,
  series: series,
  graphic: graphics
});
</script>
</body>
</html>
